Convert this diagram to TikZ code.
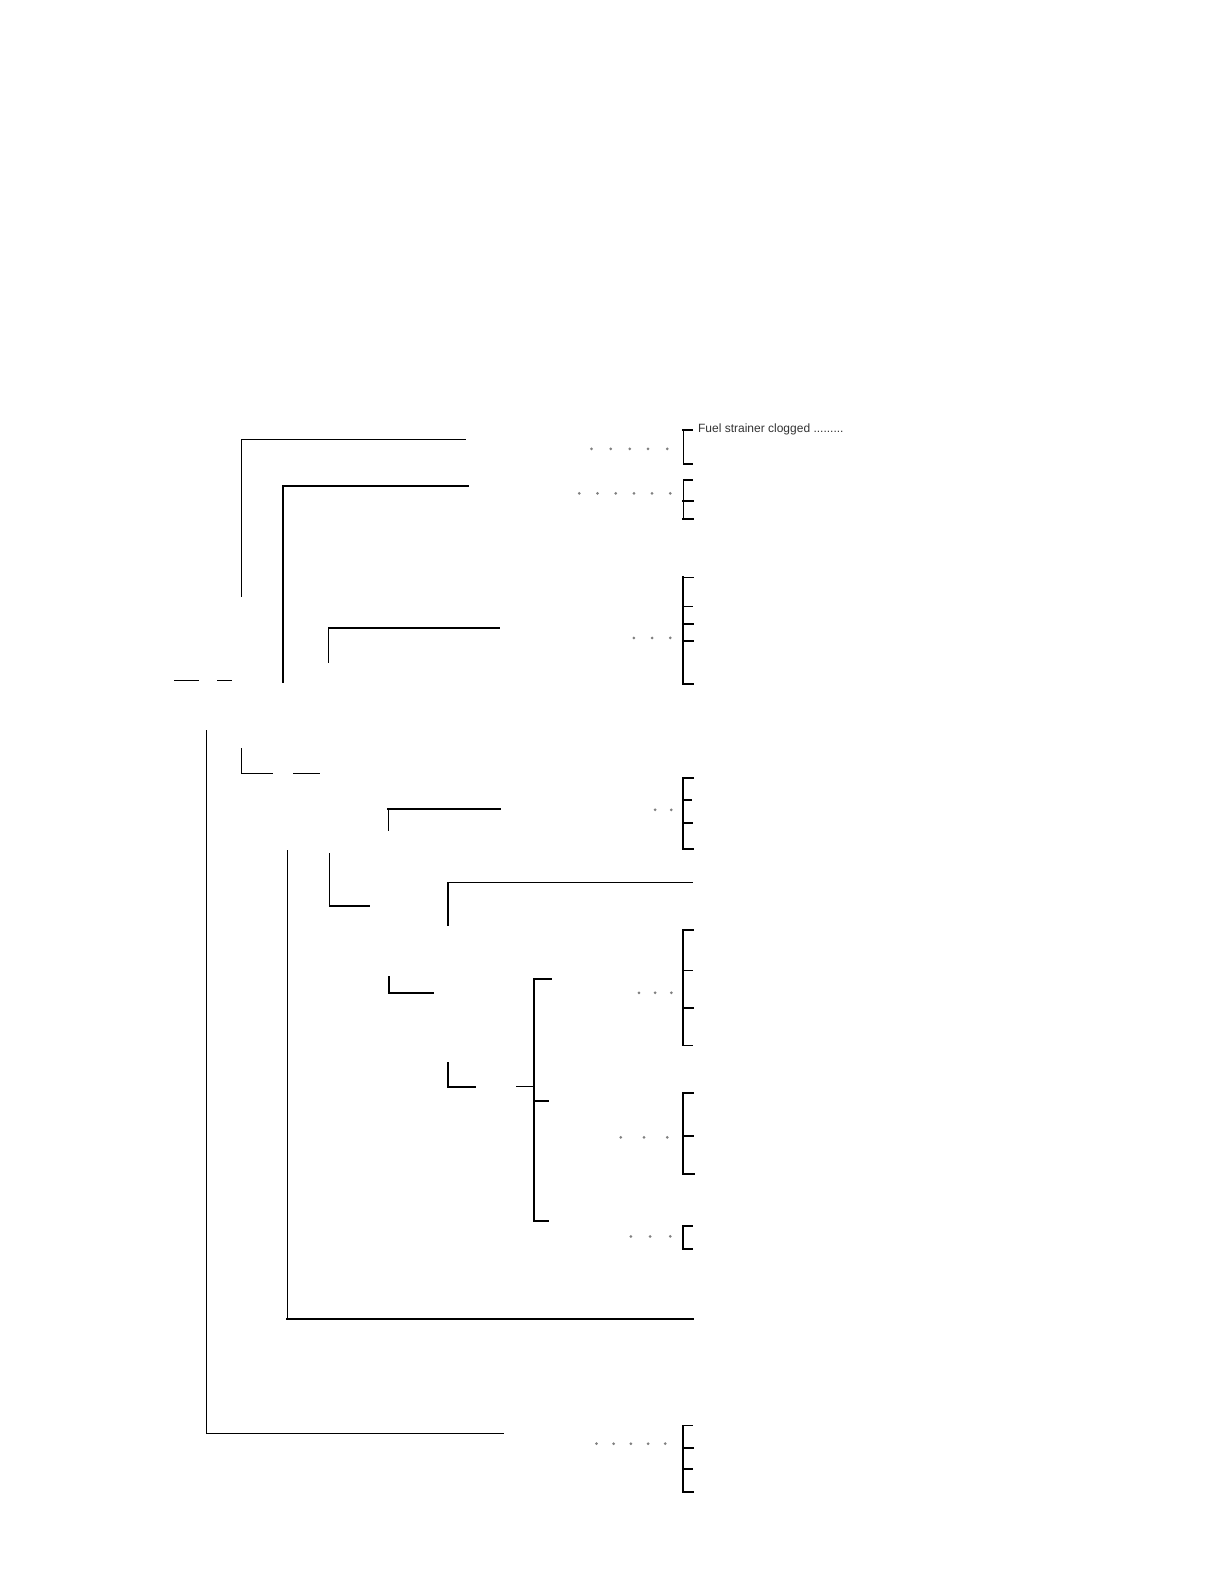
\documentclass[tikz,border=0pt]{standalone}
\usepackage{fontspec}
\setsansfont{Liberation Sans}
\definecolor{dotgray}{gray}{0.5}
\definecolor{textgray}{gray}{0.2}
\begin{document}
\begin{tikzpicture}[x=0.5055pt,y=-0.5055pt,line cap=rect,line width=0.55pt,
    thick/.style={line width=1pt},
    semithick/.style={line width=0.75pt},
    dot/.style={fill=dotgray},
    label/.style={anchor=west,inner sep=0pt,text=textgray,font=\sffamily\fontsize{6}{7}\selectfont}]
            \useasboundingbox (0pt,0pt) rectangle (612pt,-792pt);
            \draw[] (460,435) -- (239,435) -- (239,590);
            \draw[thick] (463,481) -- (280,481) -- (280,675);
            \draw[] (325,655) -- (325,621);
            \draw[thick] (325,621) -- (494,621);
            \draw[] (173,673) -- (196,673);
            \draw[] (215,673) -- (229,673);
            \draw[] (204,723) -- (204,1418) -- (498,1418);
            \draw[] (239,740) -- (239,765) -- (269,765);
            \draw[] (290,765) -- (316,765);
            \draw[] (384,821) -- (384,800);
            \draw[thick] (384,800) -- (495,800);
            \draw[] (284,841) -- (284,1305);
            \draw[thick] (284,1305) -- (685,1305);
            \draw[] (326,844) -- (326,896);
            \draw[thick] (326,896) -- (365,896);
            \draw[thick] (443,915) -- (443,873);
            \draw[] (443,873) -- (685,873);
            \draw[semithick] (385,966) -- (385,982) -- (429,982);
            \draw[thick] (443,1051) -- (443,1075) -- (470,1075);
            \draw[thick] (545,968) -- (528,968) -- (528,1208) -- (542,1208);
            \draw[] (528,1089) -- (542,1089);
            \draw[] (511,1075) -- (528,1075);
            % brackets on the right
            \draw[semithick] (685,459) -- (676,459) -- (676,425);
            \draw[thick] (676,425) -- (684,425);
            \node[label] (fuel) at (690,425) {Fuel strainer clogged .........};
            \draw[semithick] (685,475) -- (676,475) -- (676,513);
            \draw[thick] (676,496) -- (685,496);
            \draw[thick] (676,513) -- (685,513);
            \draw[semithick] (686,571) -- (676,571);
            \draw[thick] (676,571) -- (676,677) -- (685,677);
            \draw[] (676,600) -- (685,600);
            \draw[thick] (676,617) -- (685,617);
            \draw[] (676,634) -- (686,634);
            \draw[thick] (685,770) -- (676,770) -- (676,840) -- (685,840);
            \draw[thick] (676,791) -- (683,791);
            \draw[] (676,814) -- (685,814);
            \draw[thick] (685,920) -- (676,920) -- (676,1034);
            \draw[] (676,960) -- (685,960);
            \draw[thick] (676,997) -- (685,997);
            \draw[] (676,1034) -- (685,1034);
            \draw[thick] (685,1081) -- (676,1081) -- (676,1161) -- (686,1161);
            \draw[thick] (676,1124) -- (685,1124);
            \draw[thick] (684,1213) -- (676,1213) -- (676,1235) -- (684,1235);
            \draw[semithick] (685,1410) -- (676,1410);
            \draw[thick] (676,1410) -- (676,1476) -- (685,1476);
            \draw[thick] (676,1432) -- (685,1432);
            \draw[] (676,1453) -- (685,1453);
            % dotted leaders
            \foreach \x in {585,604,623,641,660} \fill[dot] (\x,444) circle [radius=0.75pt];
            \foreach \x in {573,591,609,627,645,663} \fill[dot] (\x,488) circle [radius=0.75pt];
            \foreach \x in {627,645,663} \fill[dot] (\x,631) circle [radius=0.75pt];
            \foreach \x in {648,664} \fill[dot] (\x,801) circle [radius=0.75pt];
            \foreach \x in {632,648,664} \fill[dot] (\x,982) circle [radius=0.75pt];
            \foreach \x in {614,637,660} \fill[dot] (\x,1125) circle [radius=0.75pt];
            \foreach \x in {624,643,663} \fill[dot] (\x,1223) circle [radius=0.75pt];
            \foreach \x in {590,607,624,641,658} \fill[dot] (\x,1428) circle [radius=0.75pt];
        \end{tikzpicture}
\end{document}
